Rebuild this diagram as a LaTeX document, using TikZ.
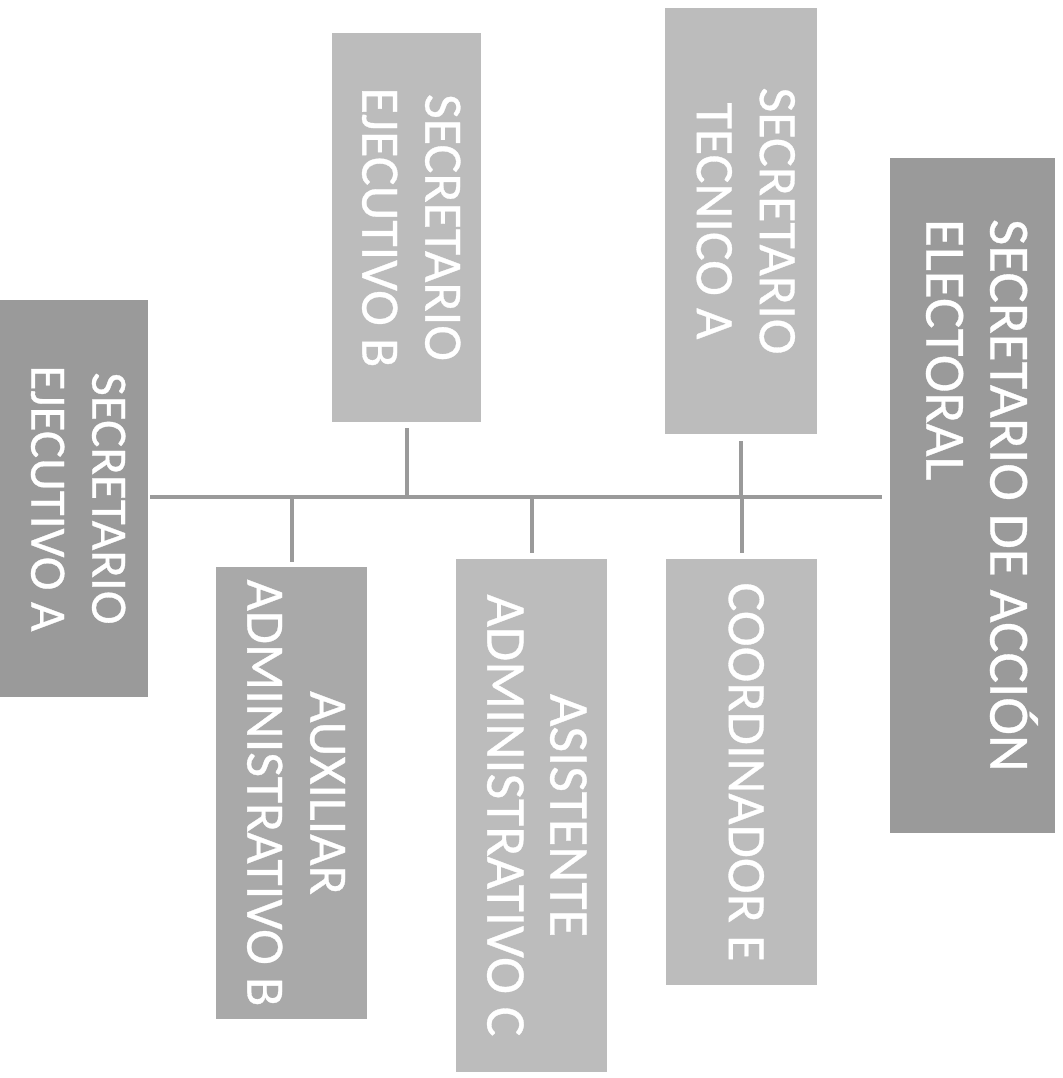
\documentclass[tikz,border=0pt]{standalone}
\usepackage{fontspec}
\setmainfont{Carlito}[FakeBold=0.6]
\usepackage{graphicx}
\definecolor{linegray}{HTML}{9A9A9A}
\definecolor{darkbox}{HTML}{9A9A9A}
\definecolor{midbox}{HTML}{A9A9A9}
\definecolor{lightbox}{HTML}{BCBCBC}
\newcommand{\vlab}[2][c]{\rotatebox{-90}{\begin{tabular}{@{}#1@{}}#2\end{tabular}}}
\tikzset{
  box/.style={inner sep=0pt, outer sep=0pt, text=white, font=\fontsize{54}{63}\selectfont},
  bigbox/.style={box, font=\fontsize{57}{64}\selectfont},
  conn/.style={draw=linegray, line width=4pt},
}
\begin{document}
\begin{tikzpicture}[x=1pt,y=-1pt]
\useasboundingbox (0,0) rectangle (1062,1078);
\fill[white] (0,0) rectangle (1062,1078);
\coordinate (bus) at (500,497);
% boxes
\node[box, fill=darkbox, minimum width=148pt, minimum height=397pt, font=\fontsize{51}{61}\selectfont] (ejA) at (74,498.5) {\vlab{SECRETARIO\\EJECUTIVO A}};
\node[box, fill=lightbox, minimum width=149pt, minimum height=389pt] (ejB) at (406.5,227.5) {\vlab{SECRETARIO\\EJECUTIVO B}};
\node[box, fill=lightbox, minimum width=152pt, minimum height=426pt] (tecA) at (741,221) {\vlab{SECRETARIO\\TECNICO A}};
\node[bigbox, fill=darkbox, minimum width=165pt, minimum height=675pt] (accion) at (972.5,495.5) {\vlab[l]{SECRETARIO DE ACCIÓN\\ELECTORAL}};
\node[box, fill=midbox, minimum width=151pt, minimum height=452pt] (aux) at (291.5,793) {\vlab{AUXILIAR\\ADMINISTRATIVO B}};
\node[box, fill=lightbox, minimum width=151pt, minimum height=513pt, font=\fontsize{56}{63}\selectfont] (asis) at (531.5,815.5) {\vlab{ASISTENTE\\ADMINISTRATIVO C}};
\node[box, fill=lightbox, minimum width=151pt, minimum height=426pt] (coord) at (741.5,772) {\vlab{COORDINADOR E}};
% connectors
\draw[conn, shorten <=2pt, shorten >=8pt] (ejA.east |- bus) -- (accion.west |- bus);
\draw[conn, shorten <=6pt] (ejB.south) -- (ejB.south |- bus);
\draw[conn, shorten <=7pt] (tecA.south) -- (tecA.south |- bus);
\draw[conn, shorten >=5pt] (aux.north |- bus) -- (aux.north);
\draw[conn, shorten >=6pt] (asis.north |- bus) -- (asis.north);
\draw[conn, shorten >=6pt] (coord.north |- bus) -- (coord.north);
\end{tikzpicture}
\end{document}
